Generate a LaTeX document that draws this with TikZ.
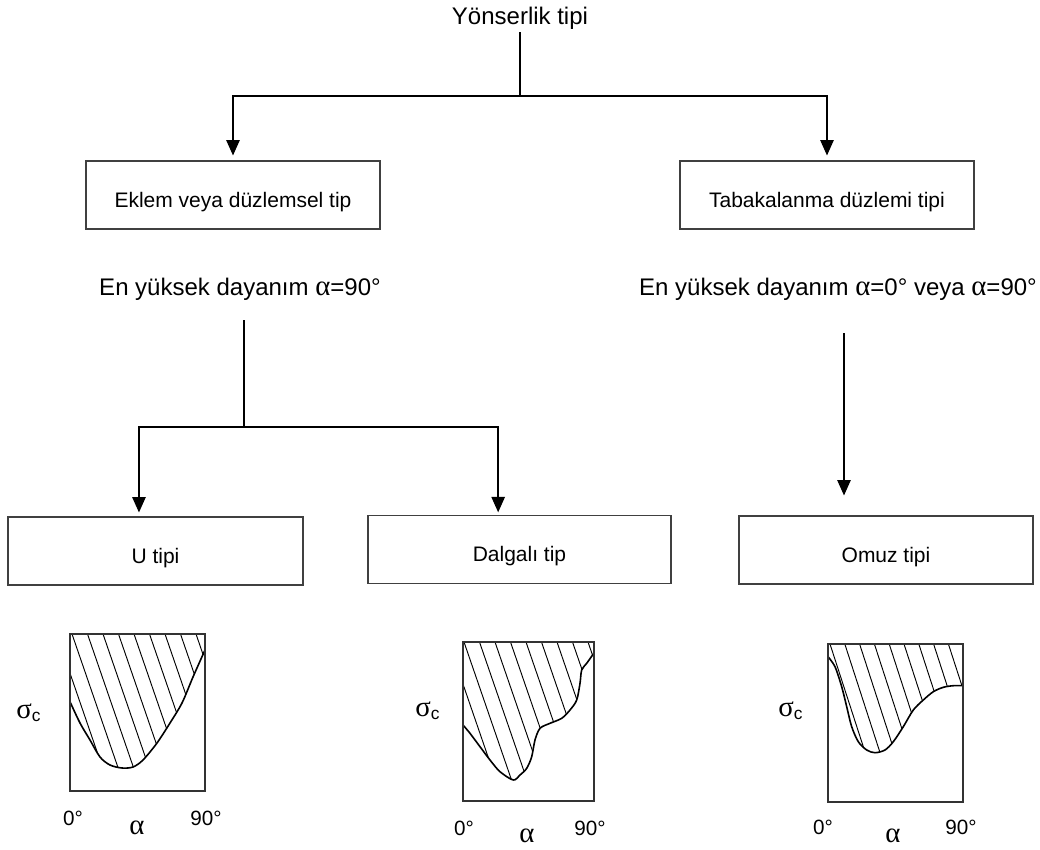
\documentclass[tikz,border=0pt]{standalone}
\usepackage{fontspec}
\setmainfont{Liberation Sans}
\newfontfamily\grk[Scale=1.2]{Liberation Serif}
\usetikzlibrary{arrows.meta}
\begin{document}
\begin{tikzpicture}[x=0.75pt,y=-0.75pt,
  conn/.style={line width=1.1pt,black},
  arr/.style={conn,-{Triangle[length=11.5pt,width=10pt]}},
  boxn/.style={draw=black!75,line width=0.8pt,minimum height=51pt,inner sep=0pt,
    font=\fontsize{15.75}{18}\selectfont,text height=18pt,text depth=0pt},
  big/.style={font=\fontsize{18}{21}\selectfont,inner sep=0pt,anchor=base},
  ax/.style={font=\fontsize{15.5}{18}\selectfont,inner sep=0pt,anchor=base},
  sig/.style={font=\fontsize{18}{21}\selectfont,inner sep=0pt,anchor=base west},
  frm/.style={draw=black!80,line width=1.3pt},
  crv/.style={line width=1.2pt,black},
  htc/.style={line width=0.7pt,black}]
\useasboundingbox (0,0) rectangle (1040,850);

% ---- top level
\node[big] (title) at (520,24) {Yönserlik tipi};
\coordinate (s1) at (520,32);
\coordinate (j1) at (520,96);
\node[boxn,minimum width=220.5pt] (box1) at (233,195) {Eklem veya düzlemsel tip};
\node[boxn,minimum width=220.5pt] (box2) at (827,195) {Tabakalanma düzlemi tipi};
\draw[conn] (s1) -- (j1);
\draw[arr,shorten >=3.75pt] (j1) -| (box1.north);
\draw[arr,shorten >=3.75pt] (j1) -| (box2.north);

% ---- second level texts
\node[big] (txt1) at (240,295) {En yüksek dayanım {\grk α}=90°};
\node[big] (txt2) at (838,295) {En yüksek dayanım {\grk α}=0° veya {\grk α}=90°};

% ---- third level
\node[boxn,minimum width=221.25pt] (ubox) at (155.5,551) {U tipi};
\node[boxn,minimum width=227.25pt] (dbox) at (519.5,549.5) {Dalgalı tip};
\node[boxn,minimum width=220.5pt] (obox) at (886,550) {Omuz tipi};
\coordinate (s2) at (244,320);
\coordinate (j2) at (244,427);
\draw[conn] (s2) -- (j2);
\draw[arr,shorten >=3pt] (j2) -| ([xshift=-12.4pt]ubox.north);
\draw[arr,shorten >=2pt] (j2) -| ([xshift=-16pt]dbox.north);
\coordinate (s3) at (844,333);
\draw[arr,shorten >=15pt] (s3) -- (s3 |- obox.north);

% ---- plot 1 (U)
\begin{scope}
  \clip (70,634) -- plot[smooth] coordinates {(70,701.7) (80,723) (90,740) (100,757) (110,765) (122,768) (133,767) (143,760) (157,743) (170,723) (182,703) (193,677) (205,650)} -- (205,634) -- cycle;
  \foreach \k in {-6,...,10} \draw[htc] (72+\k*15.5,634) -- ++(62,180);
\end{scope}
\draw[crv] plot[smooth] coordinates {(70,701.7) (80,723) (90,740) (100,757) (110,765) (122,768) (133,767) (143,760) (157,743) (170,723) (182,703) (193,677) (205,650)};
\draw[frm] (70,634) rectangle (205,791);
\node[sig] (sg1) at (16,718) {{\grk σ}\raisebox{-2.5pt}{\fontsize{13}{13}\selectfont c}};
\node[ax] (z1) at (73,825) {0°};
\node[big] (a1) at (137,834) {\grk α};
\node[ax] (n1) at (206,825) {90°};

% ---- plot 2 (Dalgali)
\begin{scope}
  \clip (463,642) -- plot[smooth] coordinates {(463,725) (470,733.3) (480,746.7) (490,760) (500,771.7) (513.3,780) (520,775) (526.7,768.3) (531.7,756.7) (535,740) (540,728.3) (550,723.3) (561.7,718.3) (570,710) (576.7,700) (580,683.3) (581.7,670) (586.7,663.3) (594,653)} -- (594,642) -- cycle;
  \foreach \k in {-6,...,10} \draw[htc] (464+\k*15.5,642) -- ++(62,180);
\end{scope}
\draw[crv] plot[smooth] coordinates {(463,725) (470,733.3) (480,746.7) (490,760) (500,771.7) (513.3,780) (520,775) (526.7,768.3) (531.7,756.7) (535,740) (540,728.3) (550,723.3) (561.7,718.3) (570,710) (576.7,700) (580,683.3) (581.7,670) (586.7,663.3) (594,653)};
\draw[frm] (463,642) rectangle (594,801);
\node[sig] (sg2) at (415,716) {{\grk σ}\raisebox{-2.5pt}{\fontsize{13}{13}\selectfont c}};
\node[ax] (z2) at (464,835) {0°};
\node[big] (a2) at (527,842) {\grk α};
\node[ax] (n2) at (590,835) {90°};

% ---- plot 3 (Omuz)
\begin{scope}
  \clip (828,644) -- plot[smooth] coordinates {(828,656.7) (835,666.7) (841.7,686.7) (846.7,706.7) (851.7,726.7) (858.3,741.7) (866.7,750) (875,752.7) (885,750) (893.3,741.7) (903.3,726.7) (913.3,710) (923.3,700) (933.3,691.7) (943.3,687.3) (953.3,685.7) (963,685.7)} -- (963,644) -- cycle;
  \foreach \k in {-6,...,10} \draw[htc] (830+\k*14.8,644) -- ++(60,185);
\end{scope}
\draw[crv] plot[smooth] coordinates {(828,656.7) (835,666.7) (841.7,686.7) (846.7,706.7) (851.7,726.7) (858.3,741.7) (866.7,750) (875,752.7) (885,750) (893.3,741.7) (903.3,726.7) (913.3,710) (923.3,700) (933.3,691.7) (943.3,687.3) (953.3,685.7) (963,685.7)};
\draw[frm] (828,644) rectangle (963,802);
\node[sig] (sg3) at (778,716) {{\grk σ}\raisebox{-2.5pt}{\fontsize{13}{13}\selectfont c}};
\node[ax] (z3) at (823,834) {0°};
\node[big] (a3) at (893,842) {\grk α};
\node[ax] (n3) at (961,834) {90°};
\end{tikzpicture}
\end{document}
